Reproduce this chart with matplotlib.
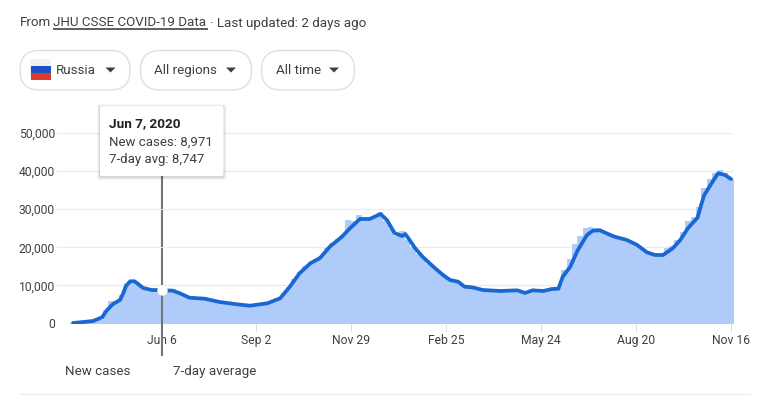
import matplotlib
matplotlib.use("Agg")
import matplotlib.pyplot as plt
from matplotlib.patches import FancyBboxPatch, Rectangle, Polygon

plt.rcParams['font.family'] = ['Roboto', 'DejaVu Sans']

tick_days = [0, 88, 176, 264, 352, 440, 528]
tick_labels = ['Jun 6', 'Sep 2', 'Nov 29', 'Feb 25', 'May 24', 'Aug 20', 'Nov 16']
y_ticks = [0, 10000, 20000, 30000, 40000, 50000]

avg_days = [-82, -63.5, -55, -51, -45, -38.5, -36, -33, -29, -25, -17, -9, 1, 10.6, 17, 26, 40, 54, 70, 82, 98,
            110, 119, 128, 138, 147, 156, 167, 175, 184, 193, 203, 209, 216, 223, 226, 230, 235, 242, 252, 261,
            267.5, 275, 281, 288, 298, 314, 330, 337, 344, 354, 362, 368, 372, 379, 386, 394.5, 400, 406.5, 414, 420,
            431.5, 441, 450, 457.5, 465, 474, 481, 488, 497, 500, 503, 510, 516, 522.5, 528]
avg_values = [130, 650, 1630, 3360, 5100, 6170, 7600, 9800, 11080, 11080, 9320, 8790, 8747, 8610, 7930, 6770, 6510, 5640, 5040, 4670, 5300,
              6610, 9660, 13180, 15800, 17190, 20160, 22700, 25070, 27430, 27430, 28740, 27170, 23760, 22970, 23490, 21920, 19820, 17530, 14910, 12730,
              11420, 10970, 9660, 9500, 8790, 8530, 8710, 8010, 8710, 8530, 9060, 9130, 12290, 14910, 19290, 23230, 24360, 24470, 23490, 22790,
              21920, 20610, 18690, 17980, 17980, 19740, 21920, 24990, 27800, 30800, 33600, 36800, 39430, 38980, 37930]

new_days = list(range(-82, 529, 5))
new_values = [100, 150, 200, 350, 500, 1000, 3500, 5800, 5500, 7500, 10700, 11200, 11000, 9500, 9000, 8800, 8900, 8900, 8700, 8400,
              7900, 7100, 6800, 6600, 6500, 6400, 6100, 5800, 5500, 5300, 5100, 5000, 4800, 4750, 4800, 5000, 5300, 5600, 6300, 8000,
              9600, 11800, 13400, 15000, 16200, 17000, 17600, 19700, 21000, 22200, 23300, 27200, 26800, 28500, 27800, 27500, 28300, 29300, 27000,
              24800, 23000, 24300, 22000, 20000, 18300, 17000, 15700, 14500, 13300, 12200, 11300, 11200, 10300, 9700, 9600, 9100, 8900, 8700, 8600,
              8500, 8900, 8700, 8600, 8900, 8000, 8300, 9100, 8900, 8800, 9300, 9300, 14000, 17000, 20800, 23000, 25000, 25300, 25000, 24600,
              23700, 23000, 22500, 22300, 21700, 21000, 20400, 19400, 18400, 18000, 18000, 19900, 20300, 22000, 24000, 27000, 28000, 30500, 35500, 37800,
              39500, 40300, 39500, 38000]

W, H = 757, 395
fig = plt.figure(figsize=(W / 100, H / 100), dpi=100)
fig.patch.set_facecolor('white')

TXT = '#3c4043'
L, R, T, B = 57, 733.5, 133, 323.5
ax = fig.add_axes([L / W, 1 - B / H, (R - L) / W, (B - T) / H])
ax.set_xlim((L - 161.5) / 1.0786, (R - 161.5) / 1.0786)
ax.set_ylim(0, 50000)
for s in ax.spines.values():
    s.set_visible(False)
ax.set_axisbelow(True)
ax.yaxis.grid(True, color='#ebebeb', lw=0.9)
ax.bar(new_days, new_values, width=5, color='#aecbfa', lw=0, zorder=2)
ax.plot(avg_days, avg_values, color='#1967d2', lw=2.7, solid_joinstyle='round', solid_capstyle='round', zorder=3)
ax.set_xticks(tick_days, tick_labels)
ax.set_yticks(y_ticks, [f'{v:,}' for v in y_ticks])
ax.tick_params(axis='x', length=6, width=0.7, color='#dadce0', labelcolor=TXT, labelsize=8.7, pad=1.5)
ax.tick_params(axis='y', length=0, labelcolor=TXT, labelsize=8.7, pad=1.5)

# cursor
cur = 0.5
ax.axvline(cur, ymin=-0.165, ymax=0.77, color='#70757a', lw=1.5, clip_on=False, zorder=4)
ax.hlines(y_ticks[1:4], cur - 2, cur + 2, color='white', lw=0.6, zorder=5)
ax.plot([cur], [8747], 'o', ms=7.5, color='white', mec='none', zorder=6)

ov = fig.add_axes([0, 0, 1, 1], facecolor='none')
ov.set_xlim(0, W)
ov.set_ylim(H, 0)
ov.axis('off')

# header
ov.text(20, 23, 'From', fontsize=9.6, color=TXT, va='center')
ov.text(53, 23, 'JHU CSSE COVID-19 Data', fontsize=9.6, color=TXT, va='center')
ov.add_patch(Rectangle((53, 28.2), 155, 2, color='#5f6368', lw=0))
ov.text(210.5, 23, '· Last updated: 2 days ago', fontsize=9.6, color=TXT, va='center')

# chips
chips = [(20, 110, 'Russia', 56, 110.5), (140.5, 111, 'All regions', 154, 231), (261.5, 93, 'All time', 276, 334)]
for x, w, label, tx, ax_x in chips:
    ov.add_patch(FancyBboxPatch((x, 50.5), w, 39.5, boxstyle='round,pad=0,rounding_size=19.5',
                                fc='white', ec='#dadce0', lw=0.9))
    ov.text(tx, 70.5, label, fontsize=9.6, color=TXT, va='center')
    ov.add_patch(Polygon([(ax_x - 5, 67.5), (ax_x + 5, 67.5), (ax_x, 72.5)], fc='#3c4043', ec='none'))

# flag
ov.add_patch(FancyBboxPatch((30, 59), 21, 21, boxstyle='round,pad=0,rounding_size=2', fc='#f1f1f1', ec='none'))
ov.add_patch(Rectangle((30.5, 66), 20.5, 7, fc='#1b4fc4', ec='none'))
ov.add_patch(Rectangle((30.5, 73), 20.5, 6.5, fc='#dd3a2b', ec='none'))

# tooltip
for grow, alpha in [(3, 0.03), (2, 0.05), (1, 0.08)]:
    ov.add_patch(FancyBboxPatch((100 - grow, 106 - grow + 1), 123.5 + 2 * grow, 70 + 2 * grow,
                                boxstyle='round,pad=0,rounding_size=2', fc='black', ec='none', alpha=alpha))
ov.add_patch(FancyBboxPatch((100, 106), 123.5, 70, boxstyle='round,pad=0,rounding_size=2', fc='white', ec='none'))
ov.text(109, 123.5, 'Jun 7, 2020', fontsize=9.7, fontweight='bold', color='#202124', va='center')
ov.text(109, 142.5, 'New cases: 8,971', fontsize=9.55, color=TXT, va='center')
ov.text(109, 159.5, '7-day avg: 8,747', fontsize=9.55, color=TXT, va='center')

# legend labels
ov.text(65, 371.5, 'New cases', fontsize=9.6, color=TXT, va='center')
ov.text(173, 371.5, '7-day average', fontsize=9.6, color=TXT, va='center')
ov.plot([20, 750], [394, 394], color='#ebebeb', lw=0.9)

fig.savefig('out.png', dpi=100)
